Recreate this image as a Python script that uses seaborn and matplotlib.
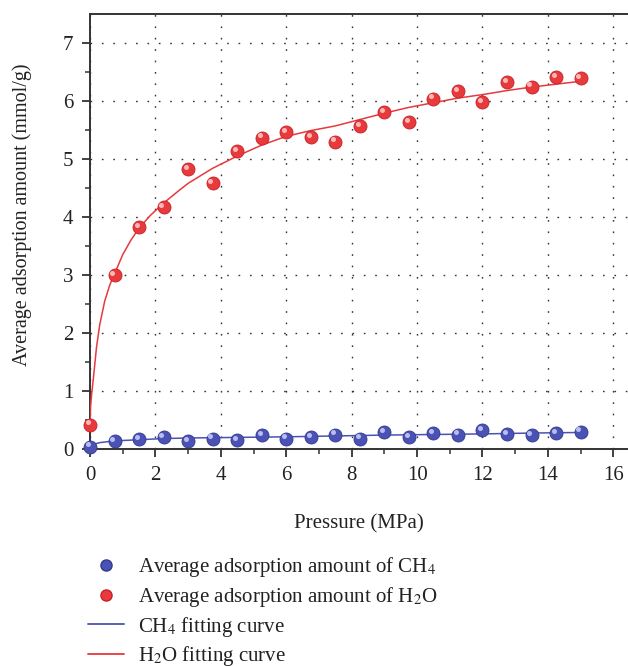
import numpy as np
import pandas as pd
import seaborn as sns
import matplotlib.pyplot as plt
from matplotlib.transforms import offset_copy
from matplotlib.lines import Line2D

# measured points
pressure = [0, 0.75, 1.5, 2.25, 3.0, 3.75, 4.5, 5.25, 6.0, 6.75, 7.5,
            8.25, 9.0, 9.75, 10.5, 11.25, 12.0, 12.75, 13.5, 14.25, 15.0]
h2o = [0.42, 3.0, 3.82, 4.17, 4.82, 4.58, 5.13, 5.37, 5.47, 5.38, 5.30,
       5.57, 5.81, 5.64, 6.04, 6.17, 5.98, 6.32, 6.25, 6.41, 6.40]
ch4 = [0.04, 0.14, 0.17, 0.20, 0.14, 0.18, 0.16, 0.24, 0.18, 0.21, 0.25,
       0.18, 0.29, 0.21, 0.27, 0.25, 0.32, 0.26, 0.24, 0.27, 0.30]

# fitting curves
fit_x_h2o = [0, 0.02, 0.05, 0.1, 0.2, 0.3, 0.45, 0.6, 0.75, 1.0, 1.25, 1.5,
             1.85, 2.25, 2.75, 3.0, 3.75, 4.5, 5.25, 6.0, 6.75, 7.5, 8.25,
             9.0, 9.75, 10.5, 11.25, 12.0, 12.75, 13.5, 14.25, 15.0]
fit_y_h2o = [0.42, 0.75, 0.95, 1.2, 1.76, 2.15, 2.55, 2.82, 3.02, 3.35, 3.6,
             3.81, 4.03, 4.24, 4.47, 4.58, 4.84, 5.05, 5.24, 5.39, 5.49, 5.57,
             5.68, 5.79, 5.89, 5.97, 6.05, 6.11, 6.18, 6.24, 6.29, 6.34]
fit_x_ch4 = [0, 0.1, 0.3, 0.75, 1.5, 2.25, 3.0, 4.5, 6.0, 7.5, 9.0, 10.5,
             12.0, 13.5, 15.0]
fit_y_ch4 = [0.04, 0.08, 0.11, 0.14, 0.16, 0.18, 0.19, 0.20, 0.21, 0.225,
             0.24, 0.25, 0.26, 0.275, 0.285]

red = "#e8393c"
blue = "#4a52b5"

sns.set_theme(style="ticks")
plt.rcParams['font.family'] = ['Liberation Serif', 'DejaVu Serif']
plt.rcParams['mathtext.fontset'] = 'stix'

fig = plt.figure(figsize=(6.28, 6.67), dpi=100)
ax = fig.add_axes([90 / 628, 1 - 449 / 667, 538 / 628, 435 / 667])

df = pd.DataFrame({"p": pressure, "h2o": h2o, "ch4": ch4})
fit_h = pd.DataFrame({"p": fit_x_h2o, "v": fit_y_h2o})
fit_c = pd.DataFrame({"p": fit_x_ch4, "v": fit_y_ch4})

sns.lineplot(data=fit_h, x="p", y="v", ax=ax, color=red, lw=1.1,
             sort=False, estimator=None, zorder=3)
sns.lineplot(data=fit_c, x="p", y="v", ax=ax, color=blue, lw=1.1,
             sort=False, estimator=None, zorder=3)

sns.scatterplot(data=df, x="p", y="h2o", ax=ax, color=red, s=88,
                edgecolor="#c42328", linewidth=0.6, zorder=4, clip_on=False)
sns.scatterplot(data=df, x="p", y="ch4", ax=ax, color=blue, s=88,
                edgecolor="#333a8c", linewidth=0.6, zorder=4, clip_on=False)

# sphere highlights
hl = offset_copy(ax.transData, fig=fig, x=-2.2, y=2.2, units='dots')
ax.scatter(pressure, h2o, s=13, color="#ffb8b8", lw=0, transform=hl, zorder=5, clip_on=False)
ax.scatter(pressure, ch4, s=13, color="#b8bcf0", lw=0, transform=hl, zorder=5, clip_on=False)

ax.set_xlim(0, 16.45)
ax.set_ylim(0, 7.5)
ax.set_xticks(range(0, 17, 2))
ax.set_xticks(range(1, 17, 2), minor=True)
ax.set_yticks(range(0, 8))
ax.set_yticks(np.arange(0.5, 7.5, 1), minor=True)

ax.grid(True, which='major', color='#333333', linestyle=(0, (1.2, 7)), lw=1.0)
for s in ['left', 'bottom', 'top']:
    ax.spines[s].set_color('#333333')
    ax.spines[s].set_linewidth(1.4)
ax.spines['right'].set_visible(False)
ax.tick_params(which='major', direction='out', length=6, width=1.3,
               color='#333333', labelsize=15, labelcolor='#222222', pad=6)
ax.tick_params(which='minor', direction='out', length=3.5, width=1.1, color='#333333')
ax.tick_params(top=False, right=False)

ax.set_xlabel("Pressure (MPa)", fontsize=15, color='#222222', labelpad=21)
ax.set_ylabel("Average adsorption amount (mmol/g)", fontsize=14.5, color='#222222')
ax.yaxis.set_label_coords(-0.108, 0.539)

handles = [
    Line2D([], [], ls='none', marker='o', ms=8, color=blue, mec="#333a8c"),
    Line2D([], [], ls='none', marker='o', ms=8, color=red, mec="#c42328"),
    Line2D([], [], color=blue, lw=1.3),
    Line2D([], [], color=red, lw=1.3),
]
labels = [
    "Average adsorption amount of CH$_4$",
    "Average adsorption amount of H$_2$O",
    "CH$_4$ fitting curve",
    "H$_2$O fitting curve",
]
fig.legend(handles, labels, loc='upper left', bbox_to_anchor=(88 / 628, 1 - 555 / 667),
           frameon=False, fontsize=15, handlelength=1.75, handletextpad=0.65,
           labelspacing=0.28, borderpad=0, borderaxespad=0, labelcolor='#222222')

fig.savefig("out.png", dpi=100)
